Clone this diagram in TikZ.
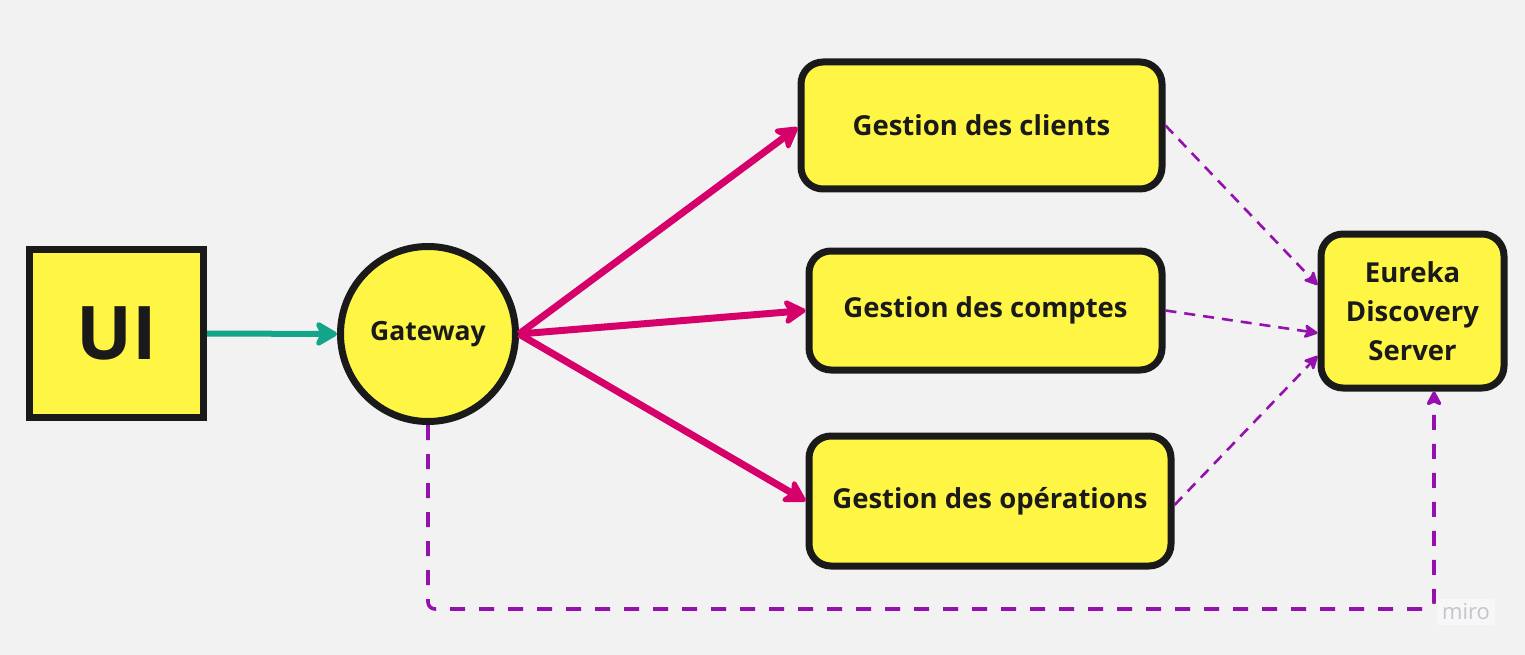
\documentclass[tikz,border=0pt]{standalone}
\usepackage{fontspec}
\setmainfont{Open Sans}
\usetikzlibrary{arrows.meta,calc}
\definecolor{bgc}{HTML}{F2F2F2}
\definecolor{yel}{HTML}{FFF545}
\definecolor{ink}{HTML}{1A1A1A}
\definecolor{tealc}{HTML}{12A58A}
\definecolor{pinkc}{HTML}{D6006B}
\definecolor{purp}{HTML}{9511AD}
\definecolor{mirog}{HTML}{C4C4CC}
\tikzset{
  box/.style={draw=ink, fill=yel, line width=7pt, rounded corners=22pt, text=ink, font=\fontsize{27.5}{39}\selectfont\bfseries, align=center, inner sep=0pt},
  tealarrow/.style={draw=tealc, line width=6pt, -{Stealth[length=26pt, width=30pt, inset=7pt, round]}},
  pinkarrow/.style={draw=pinkc, line width=7pt, -{Stealth[length=26pt, width=30pt, inset=7pt, round]}},
  purpdiag/.style={draw=purp, line width=2.6pt, dash pattern=on 11pt off 8pt, -{Stealth[length=16pt, width=16pt, inset=4pt, round]}},
  purportho/.style={draw=purp, line width=3.6pt, dash pattern=on 15pt off 14pt, rounded corners=7pt, -{Stealth[length=17pt, width=18pt, inset=4pt, round]}}
}
\begin{document}
\begin{tikzpicture}[x=1pt,y=-1pt]
\fill[bgc] (0,0) rectangle (1525,655);
\useasboundingbox (0,0) rectangle (1525,655);

\node[box, rounded corners=0pt, minimum width=174pt, minimum height=168pt, font=\fontsize{74}{80}\selectfont\bfseries] (ui) at (116.5,333.5) {UI};
\node[box, circle, minimum size=175pt, font=\fontsize{26.5}{30}\selectfont\bfseries] (gw) at (428,334) {Gateway};
\node[box, minimum width=361pt, minimum height=127pt] (cl) at (981.5,125.5) {Gestion des clients};
\node[box, minimum width=353pt, minimum height=119pt] (co) at (985.5,310.5) {Gestion des comptes};
\node[box, minimum width=362pt, minimum height=130pt] (op) at (990,501) {Gestion des opérations};
\node[box, minimum width=183pt, minimum height=154pt] (eu) at (1412.5,311) {Eureka\\Discovery\\Server};

\draw[tealarrow] (ui.east) -- (gw.west);
\draw[pinkarrow] (gw.east) -- ([yshift=-2pt]cl.west);
\draw[pinkarrow] (gw.east) -- (co.west);
\draw[pinkarrow] (gw.east) -- (op.west);

\draw[purpdiag] (cl.east) -- ([yshift=26pt]eu.west);
\draw[purpdiag] (co.east) -- ([yshift=-22pt]eu.west);
\draw[purpdiag] ([yshift=-4pt]op.east) -- ([yshift=-45pt]eu.west);

\coordinate (corner) at (1434,609);
\draw[purportho] (gw.south) |- (corner) -- ([xshift=21.5pt]eu.south);

\node[fill=white!40!bgc, text=mirog, font=\fontsize{22}{24}\selectfont, inner sep=5pt] (miro) at (1466,612) {miro};
\end{tikzpicture}
\end{document}
